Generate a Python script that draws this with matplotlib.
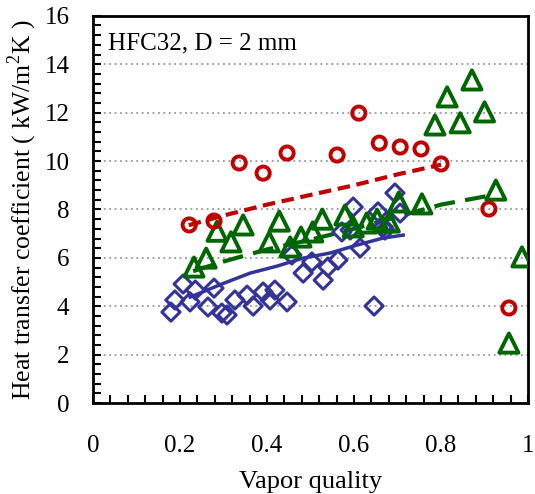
import matplotlib
matplotlib.use('Agg')
import matplotlib.pyplot as plt
from matplotlib.ticker import MultipleLocator, FuncFormatter

plt.rcParams['font.family'] = ['Liberation Serif', 'DejaVu Serif']
plt.rcParams['mathtext.fontset'] = 'custom'
plt.rcParams['mathtext.rm'] = 'Liberation Serif'

# red circles
red_x = [0.221, 0.278, 0.336, 0.391, 0.446, 0.561, 0.611, 0.658, 0.706, 0.754, 0.800, 0.910, 0.956]
red_y = [7.36, 7.52, 9.92, 9.50, 10.33, 10.25, 11.98, 10.74, 10.58, 10.50, 9.88, 8.02, 3.93]
red_fit_x = [0.22, 0.30, 0.40, 0.50, 0.60, 0.70, 0.80]
red_fit_y = [7.35, 7.75, 8.20, 8.60, 9.00, 9.45, 9.85]

# green triangles
grn_x = [0.232, 0.260, 0.285, 0.317, 0.345, 0.405, 0.428, 0.453, 0.478, 0.505, 0.527,
         0.579, 0.598, 0.629, 0.653, 0.681, 0.703, 0.756, 0.786, 0.814, 0.844, 0.871,
         0.900, 0.926, 0.956, 0.986]
grn_y = [5.62, 5.99, 7.10, 6.66, 7.36, 6.66, 7.52, 6.45, 6.86, 7.07, 7.60,
         7.77, 7.28, 7.44, 7.60, 7.48, 8.31, 8.23, 11.49, 12.65, 11.58, 13.35,
         12.03, 8.80, 2.48, 6.04]
grn_fit_x = [0.23, 0.30, 0.40, 0.50, 0.60, 0.70, 0.80, 0.92]
grn_fit_y = [5.45, 5.85, 6.35, 6.75, 7.20, 7.70, 8.20, 8.60]

# blue diamonds
blu_x = [0.179, 0.188, 0.207, 0.223, 0.235, 0.264, 0.278, 0.296, 0.308, 0.326,
         0.354, 0.368, 0.391, 0.407, 0.418, 0.446, 0.457, 0.483, 0.503, 0.529,
         0.540, 0.563, 0.572, 0.591, 0.598, 0.614, 0.646, 0.655, 0.667, 0.671,
         0.694, 0.706]
blu_y = [3.76, 4.26, 4.92, 4.18, 4.67, 3.97, 4.75, 3.72, 3.64, 4.26,
         4.46, 4.01, 4.59, 4.26, 4.67, 4.18, 6.12, 5.37, 5.83, 5.08,
         5.62, 5.91, 7.07, 7.15, 8.10, 6.41, 4.01, 7.90, 7.28, 7.15,
         8.68, 7.85]
blu_fit_x = [0.223, 0.296, 0.361, 0.423, 0.483, 0.545, 0.607, 0.667, 0.713]
blu_fit_y = [4.38, 4.92, 5.37, 5.66, 5.99, 6.20, 6.53, 6.82, 6.94]

red = '#C00000'
grn = '#006600'
blu = '#333399'

fig = plt.figure(figsize=(5.35, 4.94), dpi=100)
ax = fig.add_axes([0.174, 0.184, 0.813, 0.784])

ax.plot(red_fit_x, red_fit_y, color=red, lw=3, dashes=(3, 1.6), zorder=2)
ax.plot(grn_fit_x, grn_fit_y, color=grn, lw=3, dashes=(5, 2.5), zorder=2)
ax.plot(blu_fit_x, blu_fit_y, color=blu, lw=2.5, zorder=2)

ax.scatter(blu_x, blu_y, marker='D', s=85, facecolors='none', edgecolors=blu, linewidths=2.2, zorder=3)
ax.scatter(grn_x, grn_y, marker='^', s=190, facecolors='none', edgecolors=grn, linewidths=2.8, zorder=4)
ax.scatter(red_x, red_y, marker='o', s=90, facecolors='none', edgecolors=red, linewidths=2.8, zorder=5)

ax.set_xlim(0, 1)
ax.set_ylim(0, 16)
ax.xaxis.set_major_locator(MultipleLocator(0.2))
ax.xaxis.set_minor_locator(MultipleLocator(0.04))
ax.yaxis.set_major_locator(MultipleLocator(2))
ax.yaxis.set_minor_locator(MultipleLocator(0.4))
ax.xaxis.set_major_formatter(FuncFormatter(lambda v, p: '%g' % round(v, 2)))
ax.tick_params(which='both', direction='in', length=6, width=1.5, labelsize=18)
ax.tick_params(axis='x', which='both', pad=23)
ax.tick_params(axis='y', which='both', pad=17)

for v in range(2, 16, 2):
    ax.axhline(v, color='#999999', lw=1.3, ls=(0, (1, 2)), zorder=1)

for s in ax.spines.values():
    s.set_linewidth(2)

ax.text(0.035, 14.6, 'HFC32, D = 2 mm', fontsize=18)
ax.set_xlabel('Vapor quality', fontsize=19, labelpad=10)
ax.set_ylabel('Heat transfer coefficient ( kW/m$^2$K )', fontsize=18.5, labelpad=4)

fig.savefig('out.png', dpi=100)
